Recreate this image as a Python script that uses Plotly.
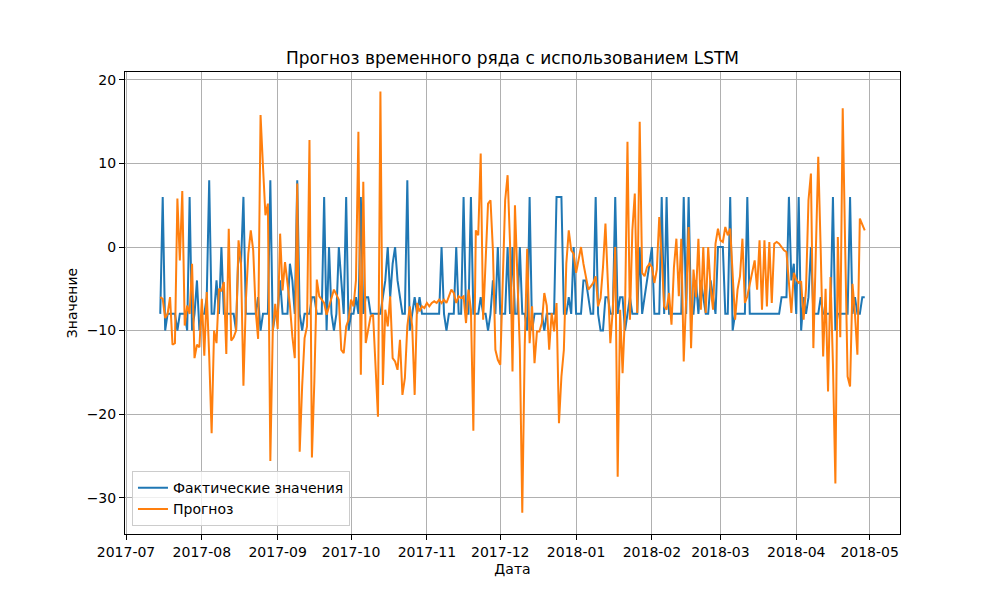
import pandas as pd
import plotly.graph_objects as go

# daily series
start_date = "2017-07-15"

actual = [
    -8, 6, -10, -8, -8, -8, -8, -10, -8, -8, -8, -10, 6, -10, -8, -4, -10, -8, -8, -6, 8, -8, -8, -4, -8, 0,
    -8, -8, -8, -8, -8, -10, 0, -2, 6, -8, -8, -8, -8, -8, -6, -10, -8, -8, -8, 8, -10, -8, -8, -4, -8, -8,
    -8, -2, -4, -8, 8, -8, -10, -8, -8, -8, -6, -6, -8, -8, -8, 6, -10, 0, -8, -10, -8, 0, -4, -8, 6, -10,
    -8, -8, -6, -8, 6, -8, -6, -6, -8, -8, -8, -8, -8, -6, -4, 0, -6, -2, 0, -4, -6, -8, -8, 8, -10, -8, -6,
    -8, -6, -8, -8, -8, -8, -8, -8, -8, -8, 0, -8, -10, -8, -8, -8, 0, -8, -8, 6, -8, -8, 6, -8, -8, -8,
    -6, -8, -8, -10, -8, -4, -8, 0, -8, -8, -8, 0, -8, 0, -8, -8, 0, -8, -8, -10, 6, -10, -8, -8, -8, -8, -10,
    -8, -8, -8, -8, 6, 6, 6, -8, -8, -6, -8, 0, -8, -8, -8, -4, -4, -6, -8, -8, 6, -8, -10, -10, -6, -6, -8,
    -8, 6, -8, -6, -6, -10, -8, -6, -8, -8, -8, 0, -8, -6, -4, -2, 0, -8, -8, -8, 6, -8, 6, -8, -8, -8,
    -8, -8, -8, 6, -8, 6, -8, -8, -4, -8, -4, -6, -8, -8, -4, -6, -8, 0, 0, 0, -8, -8, 6, -10, -8, -8, -8,
    -8, -8, 6, -8, -8, -8, -8, -8, -8, -8, -8, -8, -8, -8, -8, -8, -6, -6, -6, 6, -4, -2, -8, 6, -10, -6, -8,
    -6, 0, -8, -8, -8, -6, -8, -8, -8, -8, 6, -10, -8, -8, -8, -8, -8, 6, -8, -6, -8, -8, -6, -6,
]

forecast = [
    -6, -6.2, -8.5, -8, -6, -11.7, -11.5, 5.8, -1.6, 6.7, -9.4, -7, -8, -2, -13.3, -11.7, -12, -6.2, -13, -5.4,
    -13, -22.3, -10, -11.5, -5, -5.3,
    -4.2, -12.8, 2.2, -11.2, -10.8, -10, 0.8, -2, -16.6, -6.4, -0.8, 2, -0.4, -7.6, -11, 15.8, 9.6, 3.8, 5.2,
    -25.6, -10, -6.8, -9.8, 1.6, -5.2, -1.8,
    -4.3, -7, -10.7, -13.3, 7.6, -24.5, -16.7, -10.9, -9.5, 12.8, -25.2, -16, -3.9, -5.9, -6.3, -6.7, -8.1,
    -7.1, -6.3, -5.1, -5.7, -6.3, -12.3, -12.7, -9.5, -8.7,
    -6.3, -7.1, -4, 13.8, -15.3, 7.8, -11.5, -9.9, -8.3, -8.1, -14, -20.3, 18.6, -16.5, -7.5, -9.5, -5.9,
    -13.3, -13.7, -14.7, -11.1, -17.7, -15.7, -9.5, -7.1, -9.5, -17.7,
    -6.7, -7.7, -7.1, -7.3, -6.7, -7.1, -6.7, -6.5, -6.7, -6.3, -6.7, -6.3, -6.7, -5.9, -5.1, -5.5, -6.7,
    -5.9, -6.1, -5.9, -9.1, -5.1, -7.5, -22, 2, 1.4,
    11.2, -8.7, -1, 5.2, 5.6, -0.4, -12.3, -13.5, -14.1, -4.7, 5.6, 8.6, 0.4, -14.9, 5, -3.5, -12.3, -31.8,
    -11.9, -0.2, -11.5, -7.1, -13.9, -10.1, -10.1, -9.1, -5.5,
    -7, -12.3, -7.9, -10.1, -6.7, -21.1, -15.5, -12.3, -2, 2, -0.4, -0.8, -3.1, -1.6, 0, -2, -3.5, -5.1,
    -4.7, -4.3, -3.5, -7.1, -6.1, -2.4, 2.8, -3.9, -11.5,
    -7.5, 0, -27.5, -7.5, -15.1, -8, 12.6, -8.7, 2, 6.4, -7.9, 15, -3.1, -3.5, -2.4, -2, -2.4, -4.3, -2.7,
    3.6, -1.2, -7.1, -7.5, -5.5, -9.3, -2.4,
    1, -5.9, 1, -13.7, -6, 2.4, -12.1, -2.7, -6, 1, -7.5, 0, -7.9, 0, -5, -7.5, 0.4, 2.2, 0.8, 0.6, 2.4,
    1.4, 2.2, -3.9, -8.7, -5.1, -3.5,
    1, -6.7, -5.9, -4.3, -3, -1.6, -5.1, 0.8, -7.5, 0.8, -7.1, 0.6, -6.7, 0.4, 0.6, 0.4, 0, -0.4, -0.6,
    -4.3, -7.9, -3.1, -3.9, -4.3, -4.1, -8.7, -5,
    5.6, 8.8, -12.1, 0, 10.8, -0.4, -13.1, -5, -17.3, -3.6, -14, -28.3, 1.2, -10.8, 16.6, 0, -15.5, -16.7,
    -4.4, -8, -12.9, 3.4, 2.8, 2,
]

dates = pd.date_range(start_date, periods=len(actual), freq="D")

FONT = "DejaVu Sans"

fig = go.Figure()
fig.add_trace(go.Scatter(x=dates, y=actual, mode="lines", name="Фактические значения",
                         line=dict(color="#1f77b4", width=2)))
fig.add_trace(go.Scatter(x=dates, y=forecast, mode="lines", name="Прогноз",
                         line=dict(color="#ff7f0e", width=2)))

axis_style = dict(
    showgrid=True, gridcolor="#b0b0b0", gridwidth=1,
    showline=True, linecolor="black", linewidth=1, mirror=True,
    ticks="outside", ticklen=5, tickcolor="black",
    tickfont=dict(family=FONT, size=14, color="black"),
    zeroline=False,
)

fig.update_xaxes(
    **axis_style,
    range=["2017-06-30 14:00", "2018-05-13 10:00"],
    dtick="M1", tick0="2017-07-01", tickformat="%Y-%m",
    title=dict(text="Дата", font=dict(family=FONT, size=14, color="black"), standoff=5),
)
fig.update_yaxes(
    **axis_style,
    range=[-34.35, 20.95], dtick=10, tick0=0,
    title=dict(text="Значение", font=dict(family=FONT, size=14, color="black"), standoff=5),
)

# the page body adds 8px around the figure, so margins are shifted to compensate
fig.update_layout(
    width=1000, height=600,
    margin=dict(l=117, r=108, t=64, b=74),
    paper_bgcolor="white", plot_bgcolor="white",
    font=dict(family=FONT, size=14, color="black"),
    title=dict(text="Прогноз временного ряда с использованием LSTM",
               x=0.5, xref="paper", xanchor="center", y=0.917, yanchor="middle",
               font=dict(family=FONT, size=17, color="black")),
    legend=dict(x=0.009, y=0.017, xanchor="left", yanchor="bottom",
                bgcolor="rgba(255,255,255,0.8)", bordercolor="#cccccc", borderwidth=1,
                tracegroupgap=0,
                font=dict(family=FONT, size=14, color="black")),
    showlegend=True,
)

fig.write_html("out.html")
